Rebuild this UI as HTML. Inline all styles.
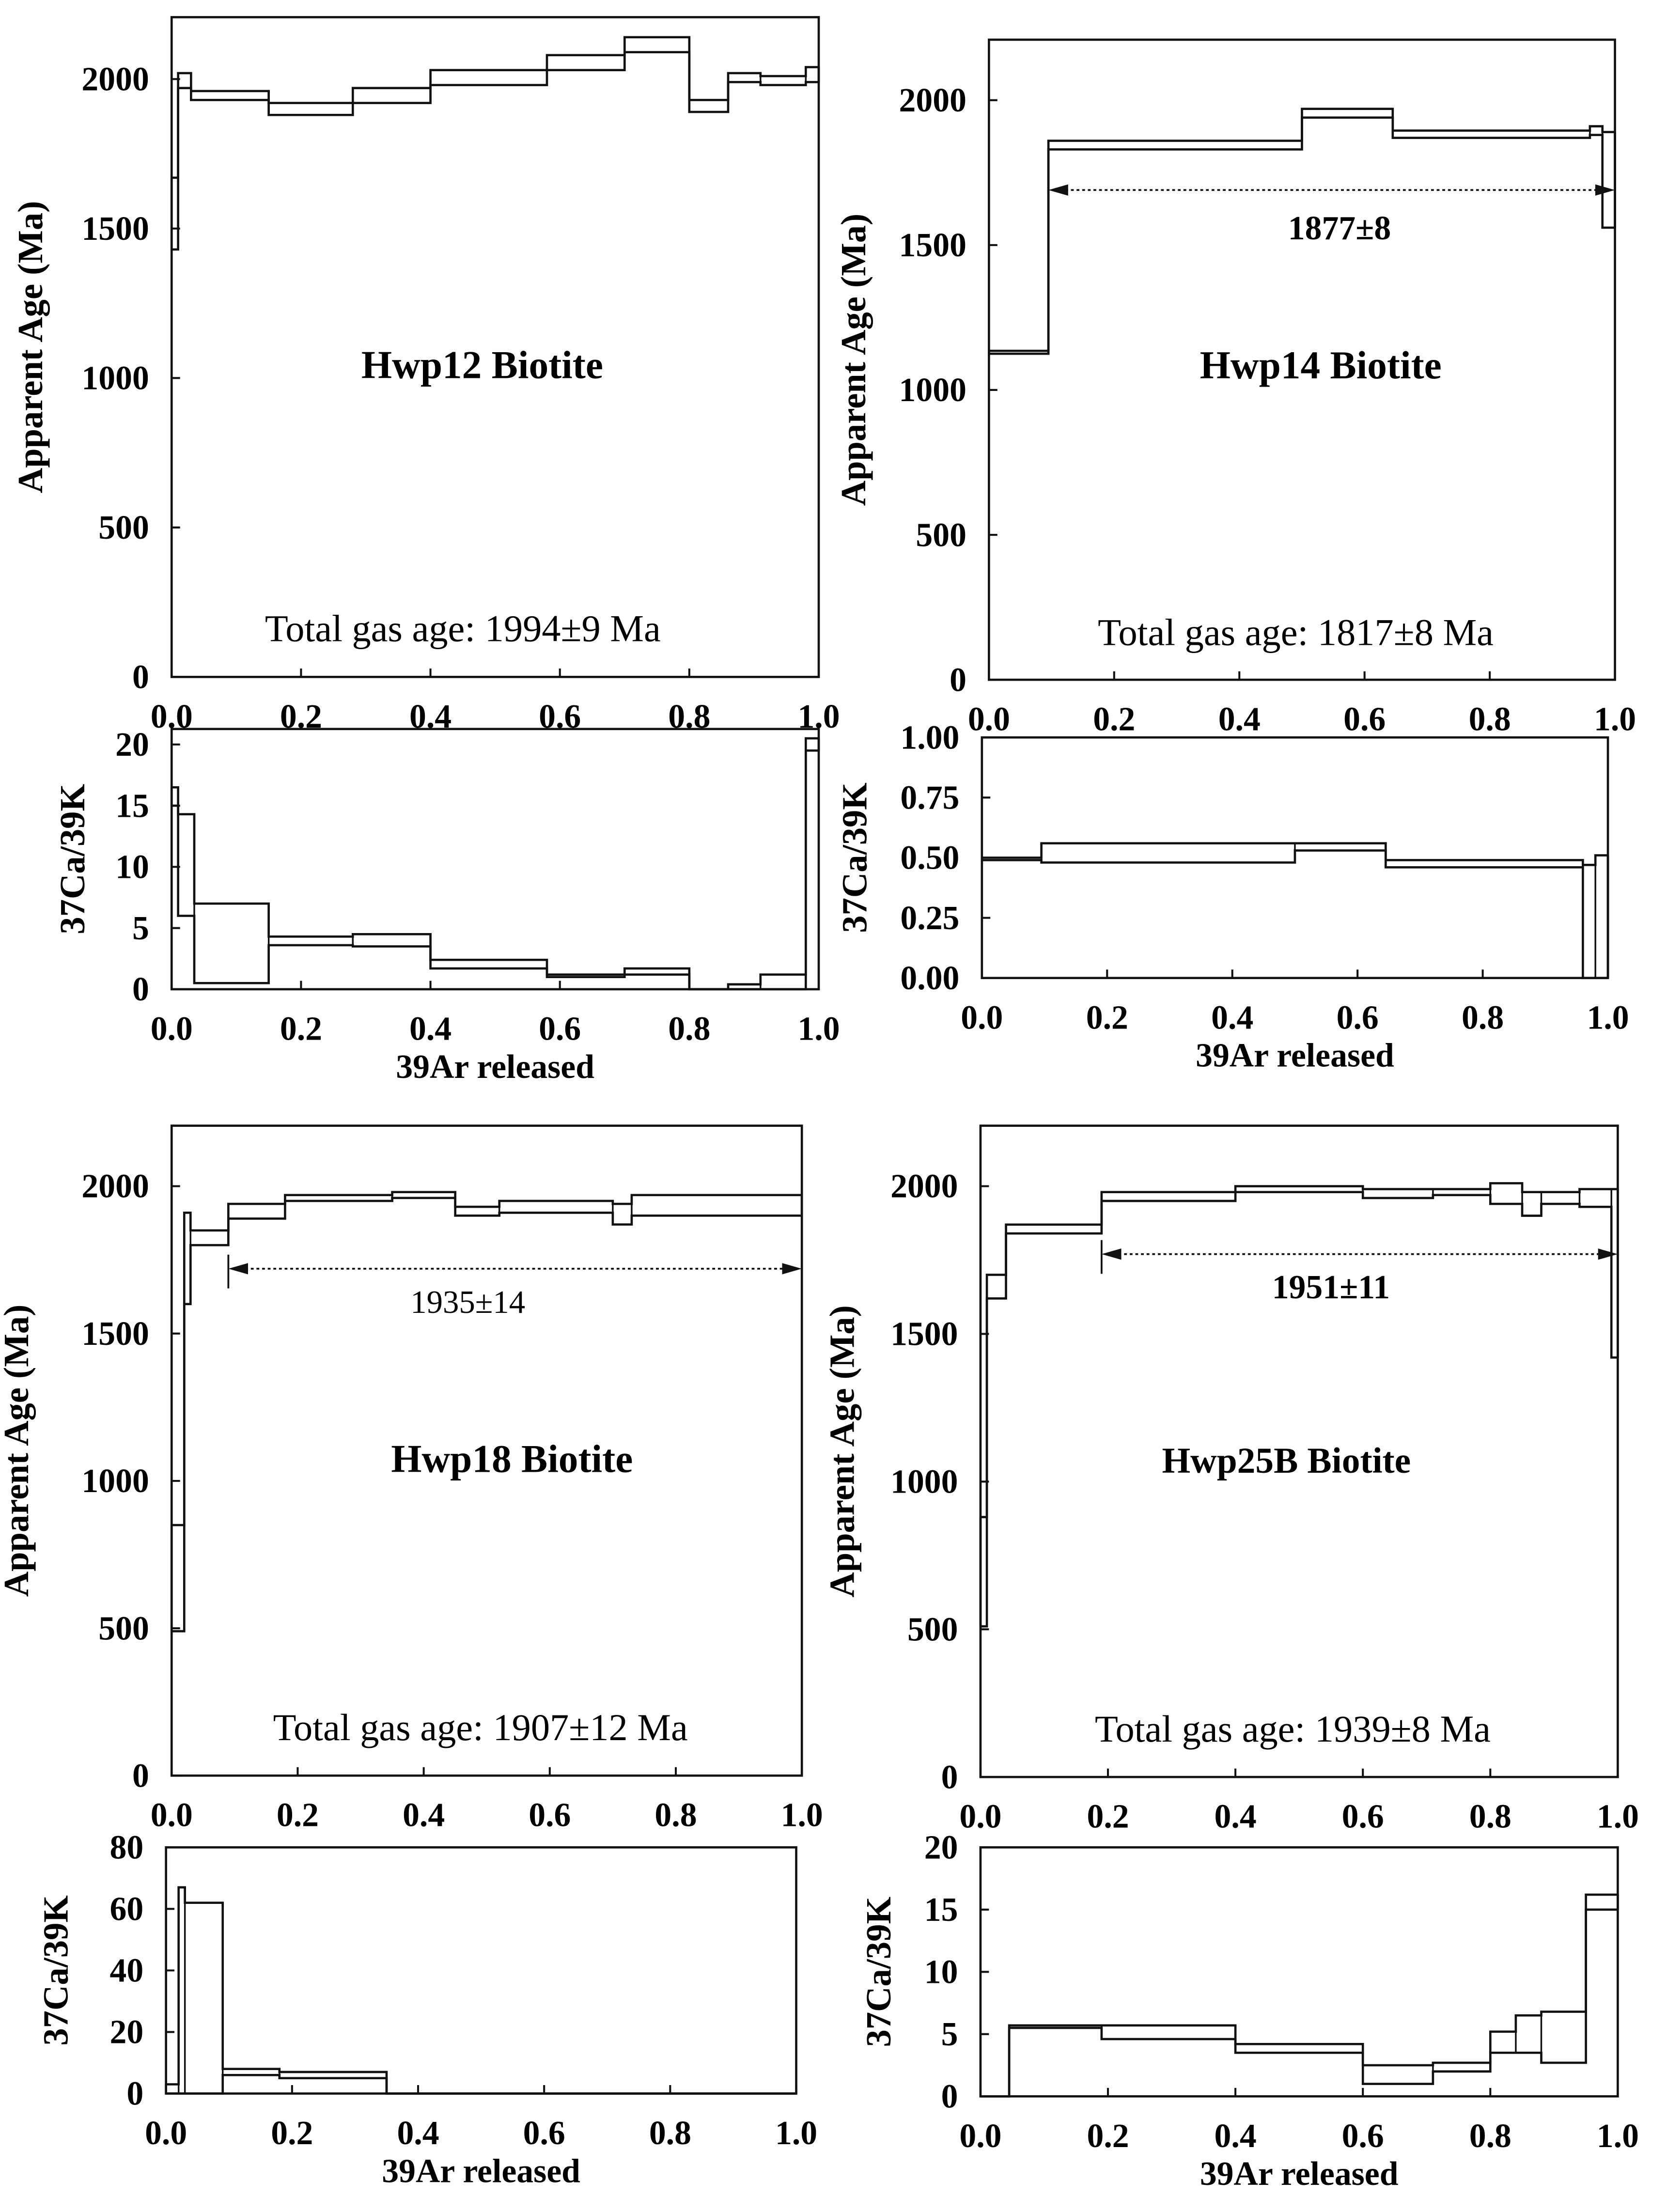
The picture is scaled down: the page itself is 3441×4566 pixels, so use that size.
<!DOCTYPE html>
<html><head><meta charset="utf-8"><style>
html,body{margin:0;padding:0;background:#fff}
svg{display:block}
</style></head><body>
<svg id="fig" width="3441" height="4566" viewBox="0 0 1185 1572" xmlns="http://www.w3.org/2000/svg" font-family="Liberation Serif, serif"></svg>
<script>
// ---- data (x0, x1, low, high) ----
const hwp12Age = [[0,0.01,1430,1670],[0.01,0.03,1970,2020],[0.03,0.15,1930,1960],[0.15,0.28,1880,1920],[0.28,0.4,1920,1970],[0.4,0.58,1980,2030],[0.58,0.7,2030,2080],[0.7,0.8,2090,2140],[0.8,0.86,1890,1930],[0.86,0.91,1990,2020],[0.91,0.98,1980,2010],[0.98,1.0,1990,2040]];
const hwp12Ca = [[0,0.01,15,16.5],[0.01,0.035,6,14.3],[0.035,0.15,0.5,7],[0.15,0.28,3.6,4.3],[0.28,0.4,3.5,4.5],[0.4,0.58,1.7,2.4],[0.58,0.7,1,1.2],[0.7,0.8,1.2,1.7],[0.8,0.86,0,0],[0.86,0.91,0,0.4],[0.91,0.98,0,1.2],[0.98,1.0,19.5,20.5]];
const hwp14Age = [[0,0.095,1125,1135],[0.095,0.5,1830,1860],[0.5,0.645,1940,1970],[0.645,0.96,1870,1895],[0.96,0.98,1880,1910],[0.98,1.0,1560,1890]];
const hwp14Ca = [[0,0.095,0.49,0.5],[0.095,0.5,0.48,0.56],[0.5,0.645,0.53,0.56],[0.645,0.96,0.46,0.49],[0.96,0.98,0,0.47],[0.98,1.0,0,0.51]];
const hwp18Age = [[0,0.02,490,850],[0.02,0.03,1600,1910],[0.03,0.09,1800,1850],[0.09,0.18,1890,1940],[0.18,0.35,1950,1970],[0.35,0.45,1960,1980],[0.45,0.52,1900,1930],[0.52,0.7,1910,1950],[0.7,0.73,1870,1940],[0.73,1.0,1900,1970]];
const hwp18Ca = [[0,0.02,0,3],[0.02,0.03,0,67],[0.03,0.09,0,62],[0.09,0.18,6,8],[0.18,0.35,5,7],[0.35,1.0,0,0]];
const hwp25Age = [[0,0.01,510,880],[0.01,0.04,1620,1700],[0.04,0.19,1840,1870],[0.19,0.4,1950,1980],[0.4,0.6,1980,2000],[0.6,0.71,1960,1990],[0.71,0.8,1970,1990],[0.8,0.85,1940,2010],[0.85,0.88,1900,1980],[0.88,0.94,1940,1980],[0.94,0.99,1930,1990],[0.99,1.0,1420,1990]];
const hwp25Ca = [[0,0.045,0,0],[0.045,0.19,5.5,5.7],[0.19,0.4,4.6,5.7],[0.4,0.6,3.5,4.2],[0.6,0.71,1,2.5],[0.71,0.8,2,2.7],[0.8,0.84,3.5,5.2],[0.84,0.88,3.5,6.5],[0.88,0.95,2.7,6.8],[0.95,1.0,15,16.2]];
const xTicks = [0,0.2,0.4,0.6,0.8,1.0];
const xTickLabels = ["0.0","0.2","0.4","0.6","0.8","1.0"];
const ageTicks = [0,500,1000,1500,2000];
const caTicks20 = [0,5,10,15,20];
const caTicks1 = [0,0.25,0.5,0.75,1.0];
const caTicks1Labels = ["0.00","0.25","0.50","0.75","1.00"];
const caTicks80 = [0,20,40,60,80];
const plateau14 = [0.095,1.0,1690];
const plateau18 = [0.09,1.0,1720];
const plateau25 = [0.19,1.0,1770];

const NS="http://www.w3.org/2000/svg";
const svg=document.getElementById('fig');
function mk(tag,attrs,parent,text){const e=document.createElementNS(NS,tag);for(const k in attrs)e.setAttribute(k,attrs[k]);if(text!==undefined)e.textContent=text;(parent||svg).appendChild(e);return e;}

function panel(o){
  const g=mk('g',{});
  
  
  const sx=v=>o.x0+(o.x1-o.x0)*v;
  const sy=v=>o.yb-(o.yb-o.yt)*(v-o.ymin)/(o.ymax-o.ymin);
  const fr=mk('rect',{x:o.x0,y:o.top,width:o.x1-o.x0,height:o.yb-o.top,fill:'none',stroke:'#111','stroke-width':1.6},g);
  
  
  o.yt_.forEach((t,i)=>{
    mk('line',{x1:o.x0,x2:o.x0+6,y1:sy(t),y2:sy(t),stroke:'#111','stroke-width':1.4},g);
    const tl=mk('text',{x:o.x0-16,y:sy(t)+8,'text-anchor':'end','font-size':24,'font-weight':'bold'},g,o.ylab?o.ylab[i]:String(t));
    
    
  });
  xTicks.forEach((t,i)=>{
    mk('line',{x1:sx(t),x2:sx(t),y1:o.yb,y2:o.yb-6,stroke:'#111','stroke-width':1.4},g);
    const tl=mk('text',{x:sx(t),y:o.yb+36,'text-anchor':'middle','font-size':24,'font-weight':'bold'},g,xTickLabels[i]);
    
    
  });
  // step envelopes
  let up='',lo='';
  o.data.forEach((d,i)=>{
    up+=(i?'L':'M')+sx(d[0])+','+sy(d[3])+'L'+sx(d[1])+','+sy(d[3]);
    lo+=(i?'L':'M')+sx(d[0])+','+sy(d[2])+'L'+sx(d[1])+','+sy(d[2]);
  });
  const f=o.data[0],l=o.data[o.data.length-1];
  const pu=mk('path',{d:up,fill:'none',stroke:'#111','stroke-width':1.6},g);
  
  
  const pl=mk('path',{d:lo,fill:'none',stroke:'#111','stroke-width':1.6},g);
  
  
  mk('line',{x1:sx(f[0]),x2:sx(f[0]),y1:sy(f[2]),y2:sy(f[3]),stroke:'#111','stroke-width':1.6},g);
  mk('line',{x1:sx(l[1]),x2:sx(l[1]),y1:sy(l[2]),y2:sy(l[3]),stroke:'#111','stroke-width':1.6},g);
  o.data.forEach(d=>{
    mk('line',{x1:sx(d[1]),x2:sx(d[1]),y1:sy(d[2]),y2:sy(d[3]),stroke:'#111','stroke-width':1.2},g);
  });
  const yl=mk('text',{transform:`translate(${o.x0-o.ytOff},${(o.top+o.yb)/2}) rotate(-90)`,'text-anchor':'middle','font-size':25,'font-weight':'bold'},g,o.ytitle);
  
  
  if(o.xtitle){const xl=mk('text',{x:(o.x0+o.x1)/2,y:o.yb+63,'text-anchor':'middle','font-size':24,'font-weight':'bold'},g,o.xtitle);
    
    }
  if(o.title){const t=mk('text',{x:sx(o.title[1]),y:sy(o.title[2]),'text-anchor':'middle','font-size':o.title[3],'font-weight':'bold'},g,o.title[0]);
    
    }
  if(o.total){const t=mk('text',{x:sx(o.total[1]),y:sy(120),'text-anchor':'middle','font-size':27},g,o.total[0]);
    
    }
  if(o.plateau){const p=o.plateau,yy=sy(p[2]);
    const ln=mk('line',{x1:sx(p[0])+12,x2:sx(p[1])-12,y1:yy,y2:yy,stroke:'#111','stroke-width':1.3,'stroke-dasharray':'2,2'},g);
    
    
    mk('polygon',{points:`${sx(p[0])},${yy} ${sx(p[0])+14},${yy-4} ${sx(p[0])+14},${yy+4}`,fill:'#111'},g);
    mk('polygon',{points:`${sx(p[1])},${yy} ${sx(p[1])-14},${yy-4} ${sx(p[1])-14},${yy+4}`,fill:'#111'},g);
    mk('line',{x1:sx(p[0]),x2:sx(p[0]),y1:yy-10,y2:yy+14,stroke:'#111','stroke-width':1.3},g);
    const t=mk('text',{x:sx(o.plateauLabel[1]),y:sy(o.plateauLabel[2]),'text-anchor':'middle','font-size':o.plateauLabel[4],'font-weight':o.plateauLabel[3]},g,o.plateauLabel[0]);
    
    }
}

panel({name:'hwp12-age-spectrum',x0:122,x1:582,top:12,yt:56,yb:481,ymin:0,ymax:2000,yt_:ageTicks,data:hwp12Age,ytitle:'Apparent Age (Ma)',ytOff:92,title:['Hwp12 Biotite',0.48,1000,28],total:['Total gas age: 1994±9 Ma',0.45]});
panel({name:'hwp12-ca-k',x0:122,x1:582,top:518,yt:529,yb:703,ymin:0,ymax:20,yt_:caTicks20,data:hwp12Ca,ytitle:'37Ca/39K',ytOff:62,xtitle:'39Ar released'});
panel({name:'hwp14-age-spectrum',x0:703,x1:1148,top:28,yt:71,yb:483,ymin:0,ymax:2000,yt_:ageTicks,data:hwp14Age,ytitle:'Apparent Age (Ma)',ytOff:88,title:['Hwp14 Biotite',0.53,1040,28],total:['Total gas age: 1817±8 Ma',0.49],plateau:plateau14,plateauLabel:['1877±8',0.56,1520,'bold',24]});
panel({name:'hwp14-ca-k',x0:698,x1:1143,top:524,yt:524,yb:695,ymin:0,ymax:1,yt_:caTicks1,ylab:caTicks1Labels,data:hwp14Ca,ytitle:'37Ca/39K',ytOff:82,xtitle:'39Ar released'});
panel({name:'hwp18-age-spectrum',x0:122,x1:570,top:800,yt:843,yb:1262,ymin:0,ymax:2000,yt_:ageTicks,data:hwp18Age,ytitle:'Apparent Age (Ma)',ytOff:102,title:['Hwp18 Biotite',0.54,1030,28],total:['Total gas age: 1907±12 Ma',0.49],plateau:plateau18,plateauLabel:['1935±14',0.47,1570,'normal',23]});
panel({name:'hwp18-ca-k',x0:118,x1:566,top:1313,yt:1313,yb:1488,ymin:0,ymax:80,yt_:caTicks80,data:hwp18Ca,ytitle:'37Ca/39K',ytOff:70,xtitle:'39Ar released'});
panel({name:'hwp25b-age-spectrum',x0:697,x1:1150,top:800,yt:843,yb:1263,ymin:0,ymax:2000,yt_:ageTicks,data:hwp25Age,ytitle:'Apparent Age (Ma)',ytOff:90,title:['Hwp25B Biotite',0.48,1030,26],total:['Total gas age: 1939±8 Ma',0.49],plateau:plateau25,plateauLabel:['1951±11',0.55,1620,'bold',24]});
panel({name:'hwp25b-ca-k',x0:697,x1:1150,top:1313,yt:1313,yb:1490,ymin:0,ymax:20,yt_:caTicks20,data:hwp25Ca,ytitle:'37Ca/39K',ytOff:64,xtitle:'39Ar released'});
</script>
</body></html>
